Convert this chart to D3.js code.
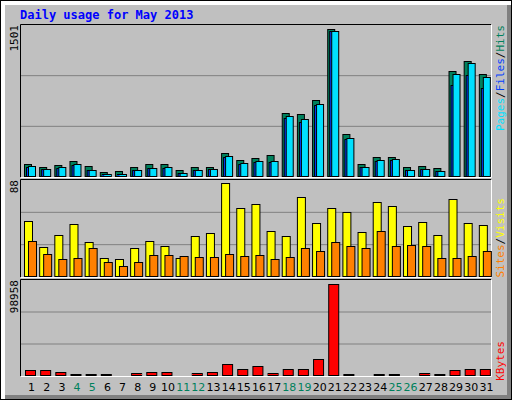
<!DOCTYPE html>
<html><head><meta charset="utf-8">
<script src="https://cdn.jsdelivr.net/npm/d3@7"></script>
<style>body{margin:0;background:#fff}</style>
</head><body><div id="chart"></div>
<script>
const days = d3.range(1, 32);
const weekends = [4, 5, 11, 12, 18, 19, 25, 26];
const hits = [130,100,120,160,110,50,60,100,130,130,70,100,100,240,170,190,220,630,620,760,1465,420,130,200,200,100,110,90,1045,1145,1015];
const files = [100,75,90,120,65,25,25,65,85,90,35,65,75,200,130,150,150,580,540,710,1445,380,95,160,165,65,75,55,905,1005,875];
const pages = [110,80,100,130,70,30,30,70,90,100,40,70,80,210,140,160,160,600,570,725,1445,390,100,170,180,70,80,60,1015,1125,985];
const visits = [51,27,38,48,32,17,16,26,33,28,17,37,40,85,63,66,42,37,73,49,63,59,41,68,64,46,50,38,71,49,47];
const sites = [33,21,16,17,26,14,10,14,20,20,19,18,18,21,19,20,16,18,26,24,32,28,26,42,28,29,28,17,17,19,24];
const kbytes = [6250,6250,4170,2080,2080,2080,1040,3130,4170,4170,1040,3130,4170,12500,7290,10420,3130,7290,7290,17710,94800,2080,1040,2080,2080,1040,3130,2080,6250,7290,7290];
const maxHits = 1501, maxVisits = 88, maxKB = 98958;

const W = 512, H = 400;
const svg = d3.select("#chart").append("svg").attr("width", W).attr("height", H)
  .style("font-family", "DejaVu Sans Mono, monospace");

// frame
svg.append("rect").attr("x", 0).attr("y", 0).attr("width", W).attr("height", H).attr("fill", "#000");
svg.append("rect").attr("x", 1).attr("y", 1).attr("width", W - 2).attr("height", H - 2).attr("fill", "#fff");
svg.append("rect").attr("x", 5).attr("y", 5).attr("width", W - 6).attr("height", H - 6).attr("fill", "#808080");
svg.append("rect").attr("x", 5).attr("y", 5).attr("width", W - 10).attr("height", H - 10).attr("fill", "#c0c0c0");

svg.append("text").attr("x", 20).attr("y", 19).attr("fill", "#0000ff")
  .attr("font-size", 12).attr("font-weight", "bold").text("Daily usage for May 2013");

const L = 21, R = 491;
const x = d3.scaleBand().domain(days).range([L, R]);

const panels = [
  {top: 25, bot: 177, max: maxHits, label: "1501"},
  {top: 180, bot: 277, max: maxVisits, label: "88"},
  {top: 280, bot: 376, max: maxKB, label: "98958"}
];
panels.forEach(p => {
  p.y = d3.scaleLinear().domain([0, p.max]).range([p.bot, p.top]);
  const g = svg.append("g");
  g.append("rect").attr("x", L).attr("y", p.top).attr("width", R - L).attr("height", p.bot - p.top)
    .attr("fill", "#c0c0c0");
  [1 / 3, 2 / 3].forEach(f => {
    g.append("line").attr("x1", L).attr("x2", R)
      .attr("y1", p.y(p.max * f)).attr("y2", p.y(p.max * f))
      .attr("stroke", "#808080").attr("stroke-width", 1);
  });
  g.append("path").attr("d", `M${L - 0.5},${p.bot}V${p.top - 0.5}H${R}`)
    .attr("fill", "none").attr("stroke", "#000");
  g.append("path").attr("d", `M${L},${p.bot + 0.5}H${R + 0.5}V${p.top}`)
    .attr("fill", "none").attr("stroke", "#fff");
  g.append("text").attr("transform", `translate(18,${p.top}) rotate(-90)`)
    .attr("text-anchor", "end").attr("font-size", 11).attr("fill", "#000").text(p.label);
});

function bars(data, p, off, w, color) {
  svg.append("g").selectAll("rect").data(data).enter().append("rect")
    .attr("x", (d, i) => x(days[i]) + off + 0.5)
    .attr("y", d => Math.round(p.y(d)) + 0.5)
    .attr("width", w)
    .attr("height", d => Math.max(0, p.bot - Math.round(p.y(d)) - 1))
    .attr("fill", color).attr("stroke", "#000");
}
bars(hits, panels[0], 3, 7, "#00805c");
bars(files, panels[0], 5, 7, "#0040ff");
bars(pages, panels[0], 7, 7, "#00e0ff");
bars(visits, panels[1], 3, 8, "#ffff00");
bars(sites, panels[1], 7, 8, "#ff8000");
bars(kbytes, panels[2], 4, 10, "#ff0000");

// x axis labels
svg.append("g").selectAll("text").data(days).enter().append("text")
  .attr("x", d => x(d) + x.bandwidth() / 2 + 3).attr("y", 391)
  .attr("text-anchor", "middle").attr("font-size", 11)
  .attr("font-family", "DejaVu Sans, sans-serif")
  .attr("fill", d => weekends.includes(d) ? "#00805c" : "#000").text(d => d);

// right labels
function sideLabel(y, parts) {
  const t = svg.append("text").attr("transform", `translate(504,${y}) rotate(-90)`)
    .attr("text-anchor", "end").attr("font-size", 11);
  parts.forEach(([s, c]) => t.append("tspan").attr("fill", c).text(s));
}
sideLabel(25, [["Pages", "#00e0ff"], ["/", "#000"], ["Files", "#0040ff"], ["/", "#000"], ["Hits", "#00805c"]]);
sideLabel(198, [["Sites", "#ff8000"], ["/", "#000"], ["Visits", "#ffff00"]]);
sideLabel(341, [["KBytes", "#ff0000"]]);
</script></body></html>
